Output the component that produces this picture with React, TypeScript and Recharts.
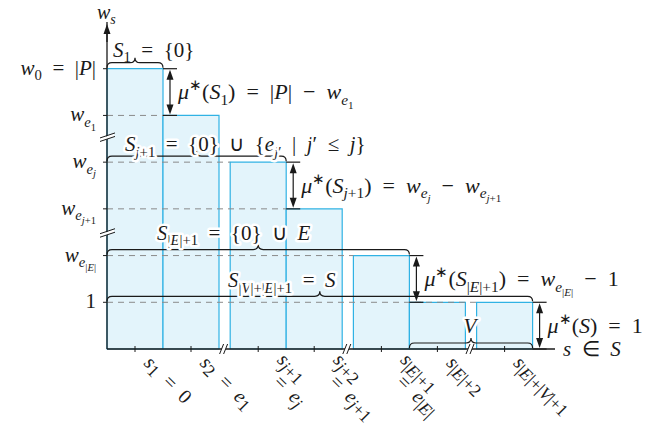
import React from 'react';
import {
  ComposedChart,
  Line,
  XAxis,
  YAxis,
  ReferenceArea,
  ReferenceLine,
  ReferenceDot,
} from 'recharts';

// steps of w_s, one bar per element s of S
const barStarts = [0, 1, 2.2, 3.2, 4.4, 5.4, 6.6];
const barLevels = [6, 5, 4, 3, 2, 1, 1];
const barTickLabels = [
  ['s_1 = 0'],
  ['s_2 = e_1'],
  ['s_[j+1]', '= e_j'],
  ['s_[j+2]', '= e_[j+1]'],
  ['s_[|E|+1]', '= e_[|E|]'],
  ['s_[|E|+2]'],
  ['s_[|E|+|V|+1]'],
];

const yTickValues = [1, 2, 3, 4, 5, 6];
const yTickLabels = ['1', 'w_[e_[|E|]]', 'w_[e_[j+1]]', 'w_[e_j]', 'w_[e_1]', 'w_0 = |P|'];

// dashed guide lines: level and where they stop
const guideLevels = [5, 4, 3, 2, 1];
const guideEnds = [1, 2.2, 3.2, 4.4, 6.6];

// set braces
const setLabels = ['S_1 = {0}', 'S_[j+1] = {0} ∪ {e_[j′] | j′ ≤ j}', 'S_[|E|+1] = {0} ∪ E', 'S_[|V|+|E|+1] = S', 'V'];
const setFrom = [0, 0, 0, 0, 5.4];
const setTo = [1, 3.2, 5.4, 7.6, 7.6];
const setLevels = [6, 4, 2, 1, 0];

// mu* arrows
const muLabels = [
  'μ^[∗](S_1) = |P| − w_[e_1]',
  'μ^[∗](S_[j+1]) = w_[e_j] − w_[e_[j+1]]',
  'μ^[∗](S_[|E|+1]) = w_[e_[|E|]] − 1',
  'μ^[∗](S) = 1',
];
const muAt = [1, 3.2, 5.4, 7.6];
const muFrom = [6, 4, 2, 1];
const muTo = [5, 3, 1, 0];

const xBreaks = [2.1, 4.3, 6.5];
const yBreaks = [4.55, 2.5];

const lineData = barStarts.map((s, i) => ({ x: s + 0.5, y: barLevels[i] }));

// pixel offsets of the brace labels from the brace's left end
const setLabelOffsets = [
  [6, -12],
  [18, -11],
  [50, -16],
  [121, -15],
  [54, -16],
];

const INK = '#1a1a1a';
const FONT = 'Liberation Serif';
const BAR_FILL = '#e3f4fb';
const BAR_STROKE = '#30b2e4';
const SP = '\u2002';

type Run = { t: string; size: number; shift: number; italic: boolean };

// tiny math markup: _x / ^x or _[..] / ^[..]
function parseMath(s: string, size: number, shift: number, out: Run[], subScale: number, subShift: number) {
  let i = 0;
  while (i < s.length) {
    const c = s[i];
    if (c === '_' || c === '^') {
      i++;
      let g = '';
      if (s[i] === '[') {
        let d = 1;
        let j = i + 1;
        while (j < s.length && d > 0) {
          if (s[j] === '[') d++;
          else if (s[j] === ']') d--;
          j++;
        }
        g = s.slice(i + 1, j - 1);
        i = j;
      } else {
        g = s[i];
        i++;
      }
      parseMath(g, size * subScale, shift + (c === '_' ? size * subShift : -size * 0.4), out, 0.72, 0.26);
      continue;
    }
    const italic = /[A-Za-zμ]/.test(c);
    const ch = c === ' ' ? SP : c;
    const last = out[out.length - 1];
    if (last && last.size === size && last.shift === shift && last.italic === italic) {
      last.t += ch;
    } else {
      out.push({ t: ch, size, shift, italic });
    }
    i++;
  }
  return out;
}

const MathText = ({
  x,
  y,
  text,
  size = 21,
  anchor = 'start',
  halo = false,
  subScale = 0.7,
  subShift = 0.26,
}: {
  x: number;
  y: number;
  text: string;
  size?: number;
  anchor?: 'start' | 'middle' | 'end';
  halo?: boolean;
  subScale?: number;
  subShift?: number;
}) => {
  const runs = parseMath(text, size, 0, [], subScale, subShift);
  let prev = 0;
  return (
    <text
      x={x}
      y={y}
      fill={INK}
      textAnchor={anchor}
      style={{ whiteSpace: 'pre', fontFamily: FONT, fontSize: size }}
      stroke={halo ? '#fff' : 'none'}
      strokeWidth={halo ? 5 : 0}
      strokeLinejoin="round"
      paintOrder="stroke"
    >
      {runs.map((r, k) => {
        const dy = r.shift - prev;
        prev = r.shift;
        return (
          <tspan
            key={k}
            style={{ fontFamily: FONT, fontSize: r.size, fontStyle: r.italic ? 'italic' : 'normal' }}
            dy={dy}
          >
            {r.t}
          </tspan>
        );
      })}
    </text>
  );
};

const bracePath = (x1: number, x2: number, y: number, a: number) => {
  const xm = (x1 + x2) / 2;
  const h = a / 2;
  return `M${x1},${y} q0,${-h} ${h},${-h} L${xm - h},${y - h} q${h},0 ${h},${-h} q0,${h} ${h},${h} L${x2 - h},${y - h} q${h},0 ${h},${h}`;
};

const XTick = (props: any) => {
  const { x, y, index } = props;
  const lines = barTickLabels[index] || [];
  const two = lines.length > 1;
  return (
    <g>
      <line x1={x} x2={x} y1={y - 3} y2={y + 3} stroke={INK} strokeWidth={1} />
      <g transform={`translate(${x + (two ? 18 : 8)},${y + (two ? 12 : 15)}) rotate(45)`}>
        <MathText x={0} y={0} text={lines[0]} size={20} subScale={0.88} subShift={0.18} />
        {two && <MathText x={13} y={18} text={lines[1]} size={20} subScale={0.88} subShift={0.18} />}
      </g>
    </g>
  );
};

const YTick = (props: any) => {
  const { x, y, payload } = props;
  const i = yTickValues.indexOf(payload.value);
  return (
    <g>
      <line x1={x - 4} x2={x} y1={y} y2={y} stroke={INK} strokeWidth={1} />
      <MathText x={x - 11} y={y + 6} text={yTickLabels[i]} anchor="end" />
    </g>
  );
};

const App: React.FC = () => {
  return (
    <div style={{ position: 'absolute', left: 0, top: 0, background: '#fff' }}>
      <ComposedChart
        width={670}
        height={441}
        data={lineData}
        margin={{ top: 22, right: 115, bottom: 0, left: 0 }}
      >
        <XAxis
          dataKey="x"
          type="number"
          domain={[0, 8]}
          ticks={lineData.map(d => d.x)}
          allowDataOverflow
          height={92}
          tickLine={false}
          tickSize={0}
          tickMargin={0}
          axisLine={{ stroke: INK, strokeWidth: 1.3 }}
          tick={<XTick />}
          interval={0}
        />
        <YAxis
          type="number"
          domain={[0, 7]}
          ticks={yTickValues}
          allowDataOverflow
          width={107}
          tickLine={false}
          tickSize={0}
          tickMargin={0}
          axisLine={{ stroke: INK, strokeWidth: 1.3 }}
          tick={<YTick />}
          interval={0}
        />

        {barStarts.map((s, i) => (
          <ReferenceArea
            key={`bar-${i}`}
            x1={s}
            x2={s + 1}
            y1={0}
            y2={barLevels[i]}
            fill={BAR_FILL}
            fillOpacity={1}
            stroke={BAR_STROKE}
            strokeWidth={1.2}
            ifOverflow="visible"
          />
        ))}

        {guideLevels.map((lv, i) => (
          <ReferenceLine
            key={`guide-${i}`}
            segment={[
              { x: 0, y: lv },
              { x: guideEnds[i], y: lv },
            ]}
            stroke="#8a8a8a"
            strokeWidth={1}
            strokeDasharray="6 5"
            ifOverflow="visible"
          />
        ))}

        <Line dataKey="y" stroke="none" dot={false} activeDot={false} isAnimationActive={false} />

        {xBreaks.map((b, i) => (
          <ReferenceDot
            key={`xb-${i}`}
            x={b}
            y={0}
            ifOverflow="visible"
            shape={(p: any) => (
              <g>
                <polygon
                  points={`${p.cx - 5},${p.cy + 5} ${p.cx - 1},${p.cy - 5} ${p.cx + 3},${p.cy - 5} ${p.cx - 1},${p.cy + 5}`}
                  fill="#fff"
                />
                <line x1={p.cx - 5} y1={p.cy + 5} x2={p.cx - 1} y2={p.cy - 5} stroke={INK} strokeWidth={1} />
                <line x1={p.cx - 1} y1={p.cy + 5} x2={p.cx + 3} y2={p.cy - 5} stroke={INK} strokeWidth={1} />
              </g>
            )}
          />
        ))}
        {yBreaks.map((b, i) => (
          <ReferenceDot
            key={`yb-${i}`}
            x={0}
            y={b}
            ifOverflow="visible"
            shape={(p: any) => (
              <g>
                <polygon
                  points={`${p.cx - 6},${p.cy + 2} ${p.cx + 7},${p.cy - 3} ${p.cx + 7},${p.cy - 0} ${p.cx - 6},${p.cy + 5}`}
                  fill="#fff"
                />
                <line x1={p.cx - 7} y1={p.cy + 1.5} x2={p.cx + 8} y2={p.cy - 3.5} stroke={INK} strokeWidth={1} />
                <line x1={p.cx - 7} y1={p.cy + 5} x2={p.cx + 8} y2={p.cy} stroke={INK} strokeWidth={1} />
              </g>
            )}
          />
        ))}

        <ReferenceDot
          x={0}
          y={7}
          ifOverflow="visible"
          shape={(p: any) => (
            <g>
              <line x1={p.cx} x2={p.cx} y1={p.cy + 8} y2={p.cy + 20} stroke={INK} strokeWidth={1.3} />
              <polygon points={`${p.cx},${p.cy + 2} ${p.cx - 3.5},${p.cy + 12} ${p.cx + 3.5},${p.cy + 12}`} fill={INK} />
            </g>
          )}
        />

        {muAt.map((x, i) => (
          <ReferenceLine
            key={`mu-${i}`}
            segment={[
              { x, y: muFrom[i] },
              { x, y: muTo[i] },
            ]}
            ifOverflow="visible"
            shape={(p: any) => {
              const ax = p.x1 + 7;
              const top = Math.min(p.y1, p.y2);
              const bot = Math.max(p.y1, p.y2);
              return (
                <g>
                  <line x1={p.x1} x2={p.x1 + 14} y1={top} y2={top} stroke={INK} strokeWidth={1.2} />
                  <line x1={p.x1} x2={p.x1 + 14} y1={bot} y2={bot} stroke={INK} strokeWidth={1.2} />
                  <line x1={ax} x2={ax} y1={top + 6} y2={bot - 6} stroke={INK} strokeWidth={1.2} />
                  <polygon points={`${ax},${top + 1} ${ax - 3.5},${top + 11} ${ax + 3.5},${top + 11}`} fill={INK} />
                  <polygon points={`${ax},${bot - 1} ${ax - 3.5},${bot - 11} ${ax + 3.5},${bot - 11}`} fill={INK} />
                </g>
              );
            }}
          />
        ))}

        {setLabels.map((_, i) => (
          <ReferenceLine
            key={`brace-${i}`}
            segment={[
              { x: setFrom[i], y: setLevels[i] },
              { x: setTo[i], y: setLevels[i] },
            ]}
            ifOverflow="visible"
            shape={(p: any) => (
              <path d={bracePath(p.x1, p.x2, Math.max(p.y1, p.y2) - 1, 10)} fill="none" stroke={INK} strokeWidth={1.2} />
            )}
          />
        ))}

        {setLabels.map((label, i) => (
          <ReferenceDot
            key={`setlabel-${i}`}
            x={setFrom[i]}
            y={setLevels[i]}
            ifOverflow="visible"
            shape={(p: any) => (
              <MathText
                x={p.cx + setLabelOffsets[i][0]}
                y={p.cy + setLabelOffsets[i][1]}
                text={label}
                halo={i > 0}
              />
            )}
          />
        ))}

        {muLabels.map((label, i) => (
          <ReferenceDot
            key={`mulabel-${i}`}
            x={muAt[i]}
            y={(muFrom[i] + muTo[i]) / 2}
            ifOverflow="visible"
            shape={(p: any) => <MathText x={p.cx + 15} y={p.cy + 7} text={label} size={22} />}
          />
        ))}

        <ReferenceDot
          x={0}
          y={7}
          ifOverflow="visible"
          shape={(p: any) => <MathText x={p.cx - 10} y={p.cy - 3} text="w_s" size={20} />}
        />
        <ReferenceDot
          x={8}
          y={0}
          ifOverflow="visible"
          shape={(p: any) => <MathText x={p.cx + 8} y={p.cy + 7} text="s ∈ S" />}
        />
      </ComposedChart>
    </div>
  );
};

export default App;
